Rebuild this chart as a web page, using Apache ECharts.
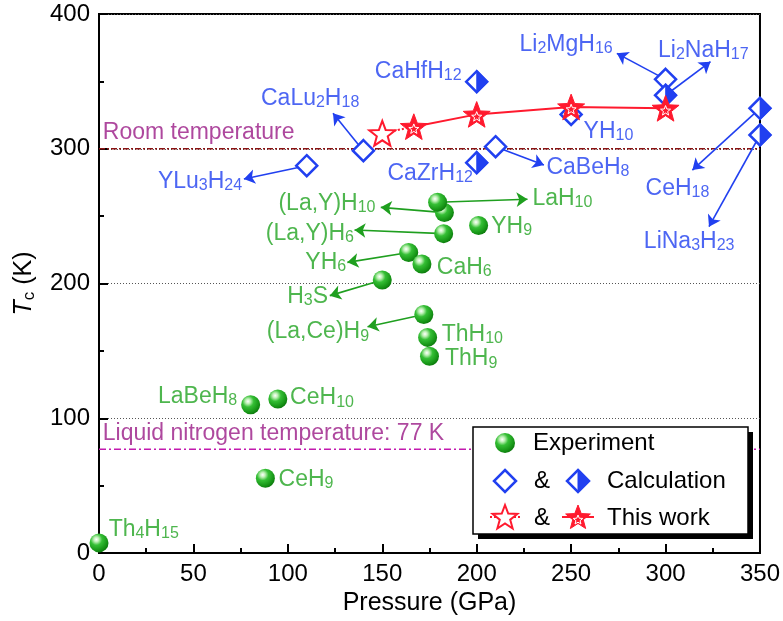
<!DOCTYPE html>
<html><head><meta charset="utf-8">
<script src="https://cdn.jsdelivr.net/npm/echarts@6/dist/echarts.min.js"></script>
<style>html,body{margin:0;padding:0;background:#fff}#c{width:783px;height:621px}</style>
</head><body><div id="c"></div>
<script>
// ---------------- data ----------------
const xTicks = [0, 50, 100, 150, 200, 250, 300, 350];
const yTicks = [0, 100, 200, 300, 400];

const expNames = ['Th4H15','LaBeH8','CeH10','CeH9','H3S','YH6','CaH6','(La,Y)H10','LaH10','(La,Y)H6','YH9','(La,Ce)H9','ThH10','ThH9'];
const expP     = [0, 80.3, 94.7, 88.1, 150, 164, 171, 182.9, 179.3, 182.5, 201, 172, 174, 175];
const expTc    = [7.5, 110, 114.3, 55.5, 202.6, 223, 214.5, 252.6, 260.3, 237, 243, 177, 160, 146];

const calcOpenNames = ['YLu3H24','CaLu2H18','CaBeH8','YH10','Li2MgH16'];
const calcOpenP     = [110, 140, 210, 250, 300];
const calcOpenTc    = [287.4, 298.6, 301.5, 325.5, 351.5];

const calcHalfNames = ['CaHfH12','CaZrH12','Li2NaH17','CeH18','LiNa3H23'];
const calcHalfP     = [200, 200, 300, 350, 350];
const calcHalfTc    = [349.8, 289.7, 339.7, 330, 310.2];

const thisOpenP  = [150];
const thisOpenTc = [311.5];
const thisP  = [166.7, 200, 250, 300];
const thisTc = [316.4, 325.5, 331, 330];

const roomT = 300;
const ln2T = 77;

// annotation layout (label anchor in data units, alignment, arrow tip)
const greenAnn = [
  {name:'Th4H15', at:[5.1,18.6], side:'right'},
  {name:'LaBeH8', at:[73.2,117.3], side:'left'},
  {name:'CeH10', at:[101.2,116.1], side:'right'},
  {name:'CeH9', at:[95.1,55.7], side:'right'},
  {name:'H3S', at:[121.3,191.5], side:'left', from:[150,202.6], tip:[122.2,191]},
  {name:'YH6', at:[130.9,216.7], side:'left', from:[164,223], tip:[131.5,215.7]},
  {name:'CaH6', at:[178.9,213], side:'right'},
  {name:'(La,Y)H10', at:[146.4,260.5], side:'left', from:[182.9,252.6], tip:[149.2,256.5]},
  {name:'LaH10', at:[229.5,264.2], side:'right', from:[179.3,260.3], tip:[226.9,262.5]},
  {name:'(La,Y)H6', at:[135,238.2], side:'left', from:[182.5,237], tip:[135.3,239.7]},
  {name:'YH9', at:[207.7,243.4], side:'right'},
  {name:'(La,Ce)H9', at:[143,165.1], side:'left', from:[172,177], tip:[142.2,167.9]},
  {name:'ThH10', at:[181.5,163.3], side:'right'},
  {name:'ThH9', at:[183.2,145], side:'right'}
];
const blueAnn = [
  {name:'YLu3H24', at:[75.8,276.8], side:'left', from:[109.9,287.4], tip:[76.7,277.6]},
  {name:'CaLu2H18', at:[111.8,338.6], side:'center', from:[140,298.6], tip:[123.9,326.3]},
  {name:'CaHfH12', at:[192,358.4], side:'left'},
  {name:'CaZrH12', at:[198,283], side:'left'},
  {name:'CaBeH8', at:[236.9,287.2], side:'right', from:[210,301.5], tip:[235.6,287.9]},
  {name:'YH10', at:[256.6,314], side:'right'},
  {name:'Li2MgH16', at:[272,378.5], side:'left', from:[300,351.5], tip:[274.2,370.8]},
  {name:'Li2NaH17', at:[320,374], side:'center', from:[300,339.7], tip:[323.8,364.6]},
  {name:'CeH18', at:[306.3,271.8], side:'center', from:[350,330], tip:[314.2,284.2]},
  {name:'LiNa3H23', at:[312.5,232.3], side:'center', from:[350,310.2], tip:[323,242.2]}
];

// ---------------- styles ----------------
const FONT = '"Liberation Sans", Arial, Helvetica, sans-serif';
const GREEN = '#1f9f1f';
const GREEN_TXT = '#22a422';
const BLUE = '#2140f0';
const RED = '#ff1a2e';
const sphere = {type:'radial', x:0.36, y:0.32, r:0.72, colorStops:[
  {offset:0, color:'#ffffff'},{offset:0.18, color:'#bdf0b5'},{offset:0.42, color:'#35bf35'},
  {offset:0.8, color:'#179617'},{offset:1, color:'#0c780c'}]};

function starPts(cx, cy, R, r){
  const p=[];
  for(let i=0;i<10;i++){
    const a = -Math.PI/2 + i*Math.PI/5;
    const rr = i%2===0 ? R : r;
    p.push([cx + rr*Math.cos(a), cy + rr*Math.sin(a)]);
  }
  return p;
}
const starPath = 'path://' + starPts(0,0,1,0.42).map((q,i)=>(i?'L':'M')+q[0].toFixed(4)+','+q[1].toFixed(4)).join(' ') + ' Z';
const halfRight = 'path://M0,0 L1,1 L0,2 Z';

function chem(name){
  let s = '{m|' + name.replace(/(\d+)/g, '}{s|$1}{m|') + '}';
  return s.replace(/\{m\|\}/g, '');
}
function richFor(color){
  return {
    m:{fontSize:23, fontFamily:FONT, color:color, lineHeight:24, verticalAlign:'top'},
    s:{fontSize:16, fontFamily:FONT, color:color, lineHeight:16, padding:[12,0,0,0], verticalAlign:'bottom'}
  };
}
function annLabels(list, color){
  return list.map(a=>{
    const pos = a.side==='left' ? 'left' : (a.side==='right' ? 'right' : 'inside');
    return {value:a.at, label:{show:true, position:pos, distance:0, offset:[0,2], formatter:chem(a.name), rich:richFor(color)}};
  });
}
function annArrows(list){
  return list.filter(a=>a.tip).map(a=>({coords:[a.from, a.tip]}));
}
function zip(a,b){ return a.map((v,i)=>[v,b[i]]); }

const chart = echarts.init(document.getElementById('c'), null, {renderer:'canvas'});

const legendGraphics = (function(){
  const g = [];
  g.push({type:'rect', shape:{x:478,y:432,width:275,height:107}, style:{fill:'#000'}, z:100});
  g.push({type:'rect', shape:{x:473,y:427,width:275,height:107}, style:{fill:'#fff', stroke:'#000', lineWidth:1.5}, z:101});
  g.push({type:'circle', shape:{cx:505,cy:443,r:10}, style:{fill:sphere}, z:102});
  g.push({type:'text', x:533, y:443, style:{text:'Experiment', font:'24px '+FONT, fill:'#000', textVerticalAlign:'middle'}, z:102});
  // row 2
  g.push({type:'polygon', shape:{points:[[505,470],[516,481],[505,492],[494,481]]}, style:{fill:'#fff', stroke:BLUE, lineWidth:2.5}, z:102});
  g.push({type:'text', x:542, y:481, style:{text:'&', font:'24px '+FONT, fill:'#000', textAlign:'center', textVerticalAlign:'middle'}, z:102});
  g.push({type:'polygon', shape:{points:[[578,470],[589,481],[578,492],[567,481]]}, style:{fill:'#fff', stroke:BLUE, lineWidth:2.5}, z:102});
  g.push({type:'polygon', shape:{points:[[578,470],[589,481],[578,492]]}, style:{fill:BLUE, stroke:BLUE, lineWidth:1}, z:103});
  g.push({type:'text', x:607, y:481, style:{text:'Calculation', font:'24px '+FONT, fill:'#000', textVerticalAlign:'middle'}, z:102});
  // row 3
  g.push({type:'line', shape:{x1:490,y1:517,x2:521,y2:517}, style:{stroke:RED, lineWidth:2, lineDash:[2,2]}, z:102});
  g.push({type:'polygon', shape:{points:starPts(505,518,13,5.5)}, style:{fill:'#fff', stroke:RED, lineWidth:2}, z:103});
  g.push({type:'text', x:542, y:518, style:{text:'&', font:'24px '+FONT, fill:'#000', textAlign:'center', textVerticalAlign:'middle'}, z:102});
  g.push({type:'line', shape:{x1:562,y1:517,x2:594,y2:517}, style:{stroke:RED, lineWidth:2}, z:102});
  g.push({type:'polygon', shape:{points:starPts(578,518,13,5.5)}, style:{fill:RED, stroke:RED, lineWidth:1}, z:103});
  g.push({type:'polygon', shape:{points:starPts(578,520,5,2.2)}, style:{fill:'none', stroke:'#fff', lineWidth:1}, z:104});
  g.push({type:'text', x:607, y:518, style:{text:'This work', font:'24px '+FONT, fill:'#000', textVerticalAlign:'middle'}, z:102});
  return g;
})();

const option = {
  animation:false,
  backgroundColor:'#fff',
  grid:{left:93.5, right:21, top:14, bottom:68, show:true, borderColor:'#000', borderWidth:2, containLabel:false},
  xAxis:{
    type:'value', min:0, max:350, interval:50,
    name:'Pressure (GPa)', nameLocation:'middle', nameGap:36,
    nameTextStyle:{fontSize:25, fontFamily:FONT, color:'#000'},
    axisLine:{show:true, onZero:false, lineStyle:{color:'#000', width:2}},
    axisTick:{show:true, inside:true, length:9, lineStyle:{color:'#000', width:2}},
    minorTick:{show:true, splitNumber:2, length:5, lineStyle:{color:'#000', width:2}},
    splitLine:{show:false},
    axisLabel:{fontSize:24, fontFamily:FONT, color:'#000', margin:9, formatter:v=>xTicks.includes(v)?String(v):''}
  },
  yAxis:{
    type:'value', min:0, max:400, interval:100,
    name:'{i|T}{c|c}{n| (K)}', nameLocation:'middle', nameGap:61,
    nameTextStyle:{fontFamily:FONT, color:'#000', rich:{
      i:{fontSize:25, fontStyle:'italic', fontFamily:FONT, color:'#000', lineHeight:26, verticalAlign:'top'},
      c:{fontSize:17, fontFamily:FONT, color:'#000', lineHeight:17, padding:[13,0,0,0], verticalAlign:'bottom'},
      n:{fontSize:25, fontFamily:FONT, color:'#000', lineHeight:26, verticalAlign:'top'}
    }},
    axisLine:{show:true, onZero:false, lineStyle:{color:'#000', width:2}},
    axisTick:{show:true, inside:true, length:9, lineStyle:{color:'#000', width:2}},
    minorTick:{show:true, splitNumber:2, length:5, lineStyle:{color:'#000', width:2}},
    splitLine:{show:true, lineStyle:{color:'#555', width:1, type:[1,2]}},
    axisLabel:{fontSize:24, fontFamily:FONT, color:'#000', margin:9, formatter:v=>yTicks.includes(v)?String(v):''}
  },
  graphic:legendGraphics,
  series:[
    {type:'line', data:[[0,roomT],[350,roomT]], symbol:'none', silent:true, z:1,
     lineStyle:{color:'#8b1313', width:1.5, type:[6,2,2,2]}},
    {type:'line', data:[[0,ln2T],[350,ln2T]], symbol:'none', silent:true, z:1,
     lineStyle:{color:'#c21aae', width:1.5, type:[7,3,2,3]}},
    {type:'scatter', symbolSize:0, silent:true, z:5,
     data:[{value:[2,311.7], label:{show:true, position:'right', distance:0, formatter:'Room temperature', fontSize:23, fontFamily:FONT, color:'#9a1a86'}},
           {value:[2,88.3], label:{show:true, position:'right', distance:0, formatter:'Liquid nitrogen temperature: 77 K', fontSize:23, fontFamily:FONT, color:'#9a1a86'}}]},
    // arrows
    {type:'lines', coordinateSystem:'cartesian2d', z:2, silent:true,
     symbol:['none','arrow'], symbolSize:11,
     lineStyle:{color:GREEN, width:1.6, opacity:1}, data:annArrows(greenAnn)},
    {type:'lines', coordinateSystem:'cartesian2d', z:2, silent:true,
     symbol:['none','arrow'], symbolSize:11,
     lineStyle:{color:BLUE, width:1.6, opacity:1}, data:annArrows(blueAnn)},
    // this work lines
    {type:'line', data:[[thisOpenP[0],thisOpenTc[0]],[thisP[0],thisTc[0]]], symbol:'none', z:3, silent:true,
     lineStyle:{color:RED, width:2, type:[2,2]}},
    {type:'line', data:zip(thisP,thisTc), symbol:'none', z:3, silent:true,
     lineStyle:{color:RED, width:2}},
    // experiment spheres
    {type:'scatter', z:4, symbol:'circle', symbolSize:19, data:zip(expP,expTc),
     itemStyle:{color:sphere, opacity:1}},
    // calculation open diamonds
    {type:'scatter', z:4, symbol:'diamond', symbolSize:21, data:zip(calcOpenP,calcOpenTc),
     itemStyle:{color:'#fff', borderColor:BLUE, borderWidth:2.5, opacity:1}},
    // calculation half-filled diamonds
    {type:'scatter', z:4, symbol:'diamond', symbolSize:21, data:zip(calcHalfP,calcHalfTc),
     itemStyle:{color:'#fff', borderColor:BLUE, borderWidth:2.5, opacity:1}},
    {type:'scatter', z:5, symbol:halfRight, symbolSize:[11,22], symbolOffset:[5.5,0], data:zip(calcHalfP,calcHalfTc),
     itemStyle:{color:BLUE, borderColor:BLUE, borderWidth:1, opacity:1}},
    // this work stars
    {type:'scatter', z:6, symbol:starPath, symbolKeepAspect:true, symbolSize:26, data:zip(thisOpenP,thisOpenTc),
     itemStyle:{color:'#fff', borderColor:RED, borderWidth:2, opacity:1}},
    {type:'scatter', z:6, symbol:starPath, symbolKeepAspect:true, symbolSize:27, data:zip(thisP,thisTc),
     itemStyle:{color:RED, borderColor:RED, borderWidth:1, opacity:1}},
    {type:'scatter', z:7, symbol:starPath, symbolKeepAspect:true, symbolSize:10, symbolOffset:[0,2], data:zip(thisP,thisTc),
     itemStyle:{color:'transparent', borderColor:'#fff', borderWidth:1, opacity:1}},
    // labels
    {type:'scatter', z:8, symbolSize:0, silent:true, data:annLabels(greenAnn, GREEN_TXT)},
    {type:'scatter', z:8, symbolSize:0, silent:true, data:annLabels(blueAnn, BLUE)}
  ]
};
chart.setOption(option);
</script>
</body></html>
